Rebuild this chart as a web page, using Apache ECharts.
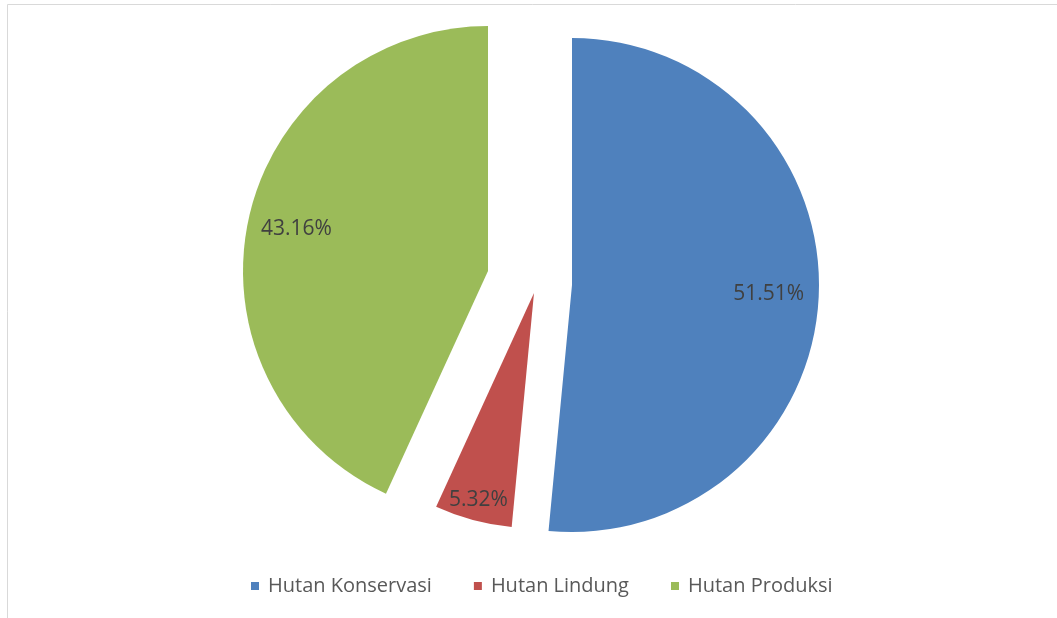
<!DOCTYPE html>
<html>
<head>
<meta charset="utf-8">
<script src="https://cdn.jsdelivr.net/npm/echarts@6/dist/echarts.min.js"></script>
<style>
html, body { margin: 0; padding: 0; background: #fff; }
#pie { width: 1057px; height: 618px; }
</style>
</head>
<body>
<div id="pie"></div>
<script>
// data
var categories = ['Hutan Konservasi', 'Hutan Lindung', 'Hutan Produksi'];
var values = [51.51, 5.32, 43.16];

// look
var colors = ['#4F81BD', '#C0504D', '#9BBB59'];
// exploded pie: every slice has its own centre / radius
var centers = [[572, 285], [534, 293], [488, 271]];
var radii = [247, 235, 245];
var labelDist = [194, 211, 193];

var total = values.reduce(function (a, b) { return a + b; }, 0);

// middle angle of slice i, clockwise from 12 o'clock
function midAngle(i) {
    var before = 0;
    for (var k = 0; k < i; k++) before += values[k];
    return (before + values[i] / 2) / total * 2 * Math.PI;
}

function sliceSeries(i) {
    return {
        name: categories[i],
        type: 'pie',
        center: centers[i],
        radius: radii[i],
        startAngle: 90,
        clockwise: true,
        avoidLabelOverlap: false,
        silent: true,
        emphasis: { disabled: true },
        labelLine: { show: false },
        itemStyle: { borderWidth: 0 },
        label: {
            position: 'inside',
            color: '#404040',
            fontSize: 21,
            fontFamily: 'Open Sans',
            formatter: function (p) { return p.value.toFixed(2) + '%'; }
        },
        labelLayout: function (p) {
            var a = midAngle(p.dataIndex);
            var shift = labelDist[i] - radii[i] / 2;
            return { dx: Math.sin(a) * shift, dy: -Math.cos(a) * shift };
        },
        data: categories.map(function (name, j) {
            return {
                name: name,
                value: values[j],
                itemStyle: { color: j === i ? colors[j] : 'rgba(0,0,0,0)' },
                label: { show: j === i }
            };
        })
    };
}

var myChart = echarts.init(document.getElementById('pie'));

var option = {
    animation: false,
    backgroundColor: '#fff',
    graphic: [{
        type: 'rect',
        silent: true,
        shape: { x: 7.5, y: 4.5, width: 1200, height: 800 },
        style: { fill: 'none', stroke: '#d9d9d9', lineWidth: 1 }
    }],
    legend: {
        data: categories.map(function (n, j) {
            return { name: n, itemStyle: { color: colors[j], opacity: 1 } };
        }),
        left: 246,
        top: 571,
        icon: 'rect',
        itemWidth: 8,
        itemHeight: 8,
        itemGap: 42,
        selectedMode: false,
        textStyle: {
            fontSize: 20,
            color: '#595959',
            fontFamily: 'Open Sans',
            padding: [0, 0, 0, 4]
        }
    },
    series: [sliceSeries(0), sliceSeries(1), sliceSeries(2)]
};

myChart.setOption(option);
</script>
</body>
</html>
